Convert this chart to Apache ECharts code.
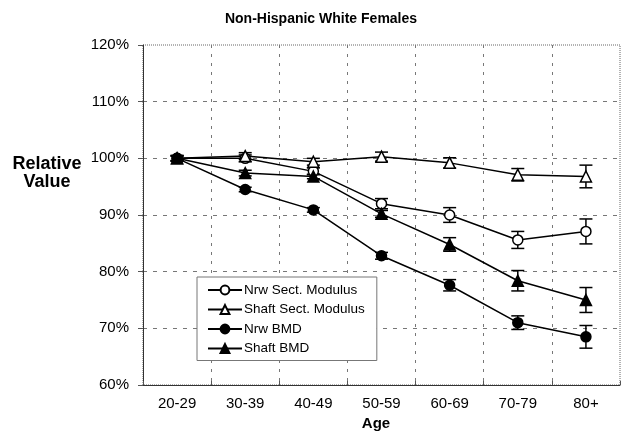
<!DOCTYPE html>
<html>
<head>
<meta charset="utf-8">
<script src="https://cdn.jsdelivr.net/npm/echarts@6/dist/echarts.min.js"></script>
<style>
  html, body { margin: 0; padding: 0; background: #fff; }
  #chart { width: 623px; height: 436px; }
</style>
</head>
<body>
<div id="chart"></div>
<script>
// Age groups along the x axis
const categories = ['20-29', '30-39', '40-49', '50-59', '60-69', '70-79', '80+'];

// Mean values relative to the 20-29 group (%)
const nrwSectModulus   = [100, 100.0, 97.7, 92.0, 90.0, 85.6, 87.1];
const shaftSectModulus = [100, 100.4, 99.4, 100.3, 99.2, 97.1, 96.8];
const nrwBMD           = [100, 94.5, 90.9, 82.8, 77.6, 71.0, 68.5];
const shaftBMD         = [100, 97.4, 96.8, 90.2, 84.8, 78.4, 75.0];

// Half-widths of the error bars (%)
const nrwSectModulusErr   = [0.5, 0.6, 0.6, 0.9, 1.3, 1.5, 2.2];
const shaftSectModulusErr = [0.5, 0.6, 0.6, 0.8, 0.9, 1.1, 2.0];
const nrwBMDErr           = [0.4, 0.4, 0.4, 0.6, 1.0, 1.2, 2.0];
const shaftBMDErr         = [0.4, 0.5, 0.4, 0.6, 1.2, 1.8, 2.2];

// Y axis ticks
const yTicks = [60, 70, 80, 90, 100, 110, 120];

const FONT = '"Liberation Sans", Arial, sans-serif';

const seriesDefs = [
  { name: 'Nrw Sect. Modulus',   values: nrwSectModulus,   err: nrwSectModulusErr,   symbol: 'circle',   filled: false, size: 10 },
  { name: 'Shaft Sect. Modulus', values: shaftSectModulus, err: shaftSectModulusErr, symbol: 'triangle', filled: false, size: 11 },
  { name: 'Nrw BMD',             values: nrwBMD,           err: nrwBMDErr,           symbol: 'circle',   filled: true,  size: 10 },
  { name: 'Shaft BMD',           values: shaftBMD,         err: shaftBMDErr,         symbol: 'triangle', filled: true,  size: 11 }
];

function errorBarRenderer(params, api) {
  const x = api.value(0);
  const y = api.value(1);
  const e = api.value(2);
  const top = api.coord([x, y + e]);
  const bot = api.coord([x, y - e]);
  const hw = 6.5;
  const style = { stroke: '#000', lineWidth: 1.5, fill: null };
  return {
    type: 'group',
    children: [
      { type: 'line', shape: { x1: top[0], y1: top[1], x2: bot[0], y2: bot[1] }, style: style },
      { type: 'line', shape: { x1: top[0] - hw, y1: top[1], x2: top[0] + hw, y2: top[1] }, style: style },
      { type: 'line', shape: { x1: bot[0] - hw, y1: bot[1], x2: bot[0] + hw, y2: bot[1] }, style: style }
    ]
  };
}

const series = [];
seriesDefs.forEach(function (d) {
  series.push({
    name: d.name + ' error',
    type: 'custom',
    renderItem: errorBarRenderer,
    data: d.values.map(function (v, i) { return [i, v, d.err[i]]; }),
    z: 2,
    silent: true
  });
});
seriesDefs.forEach(function (d) {
  series.push({
    name: d.name,
    type: 'line',
    data: d.values,
    symbol: d.symbol,
    symbolSize: d.size,
    showAllSymbol: true,
    lineStyle: { color: '#000', width: 1.5 },
    itemStyle: {
      color: d.filled ? '#000' : '#fff',
      borderColor: '#000',
      borderWidth: 1.5
    },
    emphasis: { disabled: true },
    z: 3
  });
});

const chart = echarts.init(document.getElementById('chart'), null, { renderer: 'canvas' });
chart.setOption({
  animation: false,
  backgroundColor: '#fff',
  title: {
    text: 'Non-Hispanic White Females',
    left: 316,
    top: 7,
    textAlign: 'center',
    textStyle: { fontFamily: FONT, fontSize: 14, fontWeight: 'bold', color: '#000' }
  },
  grid: {
    left: 143, right: 3, top: 45, bottom: 51,
    show: true,
    borderColor: '#666',
    borderWidth: 1,
    borderType: 'dotted'
  },
  legend: {
    data: seriesDefs.map(function (d) { return d.name; }),
    orient: 'vertical',
    left: 197,
    top: 277,
    itemWidth: 34,
    itemHeight: 11,
    itemGap: 5.5,
    padding: [6, 12, 5, 10],
    borderColor: '#777',
    borderWidth: 1,
    backgroundColor: '#fff',
    selectedMode: false,
    textStyle: { fontFamily: FONT, fontSize: 13.5, color: '#000', padding: [0, 0, 0, -3] }
  },
  xAxis: {
    type: 'category',
    data: categories,
    boundaryGap: true,
    axisLine: { lineStyle: { color: '#333', width: 1 } },
    axisTick: { show: true, inside: true, length: 4, lineStyle: { color: '#555' } },
    axisLabel: { fontFamily: FONT, fontSize: 15, color: '#000', margin: 11 },
    splitLine: { show: true, showMaxLine: false, lineStyle: { color: '#777', type: [3, 6], width: 1 } }
  },
  yAxis: {
    type: 'value',
    min: yTicks[0],
    max: yTicks[yTicks.length - 1],
    interval: 10,
    axisLine: { show: true, lineStyle: { color: '#333', width: 1 } },
    axisTick: { show: true, length: 5, lineStyle: { color: '#555' } },
    axisLabel: { fontFamily: FONT, fontSize: 15, color: '#000', margin: 14, formatter: '{value}%' },
    splitLine: { show: true, showMaxLine: false, showMinLine: false, lineStyle: { color: '#777', type: [4, 6], width: 1 } }
  },
  graphic: [
    {
      type: 'text',
      x: 47,
      y: 173,
      style: {
        text: 'Relative\nValue',
        fontFamily: FONT,
        fontSize: 18,
        fontWeight: 'bold',
        fill: '#000',
        align: 'center',
        verticalAlign: 'middle',
        lineHeight: 18
      }
    },
    {
      type: 'text',
      x: 376,
      y: 424,
      style: {
        text: 'Age',
        fontFamily: FONT,
        fontSize: 15,
        fontWeight: 'bold',
        fill: '#000',
        align: 'center',
        verticalAlign: 'middle'
      }
    }
  ],
  series: series
});
</script>
</body>
</html>
